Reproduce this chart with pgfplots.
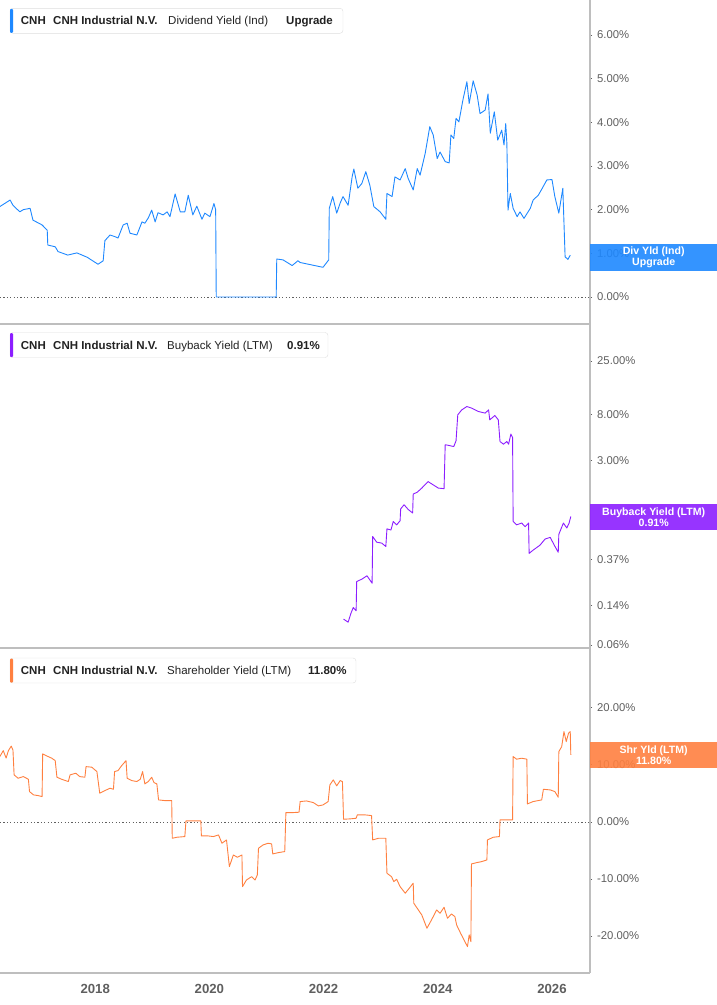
\documentclass[border=0pt]{standalone}
\usepackage{fontspec}
\setmainfont{Liberation Sans}
\usepackage{pgfplots}
\pgfplotsset{compat=1.18}

\definecolor{divblue}{RGB}{30,136,255}
\definecolor{bbpurple}{RGB}{140,30,255}
\definecolor{shrorange}{RGB}{255,128,64}
\definecolor{axisgray}{RGB}{190,190,190}
\definecolor{ticktext}{RGB}{95,95,95}
\definecolor{legtext}{RGB}{34,34,34}
\definecolor{legborder}{RGB}{222,222,222}

\newcommand\legfont{\fontsize{11.5}{13}\selectfont}
\newcommand\annfont{\fontsize{10.6}{10.8}\selectfont}

\pgfplotsset{
  panel/.style={
    scale only axis, width=590pt, height=324pt,
    xmin=2016.333, xmax=2026.666,
    axis line style={draw=none},
    xtick=\empty,
    ytick pos=right, yticklabel pos=right,
    tick align=outside, major tick length=2pt,
    ytick style={ticktext, line width=0.8pt},
    yticklabel style={font=\fontsize{11.3}{12}\selectfont, text=ticktext, inner sep=0pt, xshift=5pt},
    /pgf/number format/assume math mode=true,
    anchor=north west,
  },
  zeroline/.style={ticktext, line width=0.8pt, dash pattern=on 1.2pt off 2.2pt},
  series/.style={#1, line width=0.9pt, line join=round},
}

\begin{document}
\begin{tikzpicture}

% ---- panel 1: dividend yield
\begin{axis}[panel, at={(0pt,0pt)},
  ymin=-0.618, ymax=6.80,
  ytick={0,1,2,3,4,5,6},
  yticklabels={0.00\%,1.00\%,2.00\%,3.00\%,4.00\%,5.00\%,6.00\%}]
\addplot[zeroline] coordinates {(2016.333,0) (2026.666,0)};
\addplot[series=divblue] coordinates {
(2016.33,2.07) (2016.51,2.22) (2016.56,2.10) (2016.68,1.95) (2016.74,2.00)
(2016.86,2.03) (2016.91,1.76) (2017.07,1.65) (2017.16,1.53) (2017.17,1.19)
(2017.30,1.15) (2017.35,1.04) (2017.52,0.96) (2017.68,1.01) (2017.86,0.91)
(2018.05,0.75) (2018.14,0.83) (2018.17,1.29) (2018.26,1.42) (2018.35,1.38)
(2018.40,1.35) (2018.49,1.65) (2018.56,1.69) (2018.61,1.46) (2018.73,1.42)
(2018.82,1.72) (2018.87,1.69) (2018.93,1.81) (2018.99,1.99) (2019.05,1.72)
(2019.10,1.93) (2019.19,1.88) (2019.26,1.95) (2019.31,1.84) (2019.40,2.36)
(2019.49,1.95) (2019.57,1.95) (2019.63,2.33) (2019.71,1.88) (2019.78,2.08)
(2019.87,1.78) (2019.92,1.92) (2020.01,1.84) (2020.08,2.14) (2020.11,2.00)
(2020.12,0) (2021.17,0) (2021.18,0.87) (2021.29,0.85) (2021.45,0.72)
(2021.55,0.83) (2021.59,0.79) (2021.99,0.68) (2022.09,0.85) (2022.10,2.03)
(2022.16,2.30) (2022.23,1.92) (2022.29,2.15) (2022.34,2.30) (2022.43,2.10)
(2022.50,2.75) (2022.53,2.93) (2022.60,2.49) (2022.67,2.60) (2022.74,2.87)
(2022.81,2.56) (2022.88,2.07) (2022.99,1.95) (2023.09,1.78) (2023.11,2.37)
(2023.20,2.30) (2023.25,2.75) (2023.34,2.68) (2023.43,2.94) (2023.48,2.72)
(2023.57,2.45) (2023.64,2.94) (2023.69,2.79) (2023.78,3.29) (2023.86,3.90)
(2023.92,3.71) (2023.99,3.17) (2024.04,3.32) (2024.13,3.10) (2024.20,3.07)
(2024.23,3.71) (2024.28,3.63) (2024.32,4.09) (2024.37,4.01) (2024.44,4.51)
(2024.51,4.93) (2024.55,4.43) (2024.62,4.95) (2024.69,4.62) (2024.74,4.20)
(2024.83,4.28) (2024.88,4.65) (2024.92,3.75) (2024.99,4.24) (2025.05,3.59)
(2025.12,3.82) (2025.16,3.48) (2025.19,3.97) (2025.21,3.52) (2025.23,1.99)
(2025.27,2.37) (2025.32,2.03) (2025.39,1.84) (2025.44,1.95) (2025.51,1.80)
(2025.62,2.03) (2025.67,2.22) (2025.76,2.33) (2025.83,2.49) (2025.91,2.68)
(2026.00,2.69) (2026.05,2.30) (2026.12,1.92) (2026.19,2.49) (2026.23,0.92)
(2026.28,0.86) (2026.32,0.96)
};
\end{axis}

% ---- panel 2: buyback yield (log)
\begin{axis}[panel, at={(0pt,-324pt)},
  ymode=log, ymin=0.0563, ymax=54.8,
  ytick={0.06,0.14,0.37,3,8,25},
  yticklabels={0.06\%,0.14\%,0.37\%,3.00\%,8.00\%,25.00\%},
  minor ytick={}, yminorticks=false]
\addplot[series=bbpurple] coordinates {
(2022.35,0.104) (2022.43,0.0975) (2022.48,0.118) (2022.52,0.133) (2022.57,0.124)
(2022.58,0.231) (2022.67,0.243) (2022.76,0.261) (2022.85,0.223) (2022.86,0.601)
(2022.93,0.533) (2023.02,0.522) (2023.09,0.486) (2023.11,0.707) (2023.18,0.69)
(2023.22,0.826) (2023.28,0.77) (2023.34,0.84) (2023.35,1.08) (2023.41,1.18)
(2023.48,1.07) (2023.56,0.99) (2023.57,1.48) (2023.64,1.54) (2023.72,1.68)
(2023.83,1.93) (2023.92,1.80) (2024.01,1.68) (2024.11,1.66) (2024.13,4.22)
(2024.20,4.15) (2024.28,4.06) (2024.32,4.59) (2024.35,7.96) (2024.42,8.85)
(2024.51,9.5) (2024.59,9.19) (2024.71,8.55) (2024.83,8.26) (2024.89,8.85)
(2024.91,7.16) (2025.00,7.85) (2025.06,7.16) (2025.09,4.52) (2025.15,4.27)
(2025.21,4.52) (2025.24,4.27) (2025.28,5.29) (2025.31,4.92) (2025.32,0.83)
(2025.38,0.77) (2025.47,0.80) (2025.53,0.74) (2025.59,0.80) (2025.60,0.42)
(2025.67,0.45) (2025.79,0.50) (2025.88,0.57) (2025.97,0.59) (2026.04,0.50)
(2026.11,0.43) (2026.12,0.63) (2026.20,0.80) (2026.26,0.72) (2026.30,0.80)
(2026.33,0.92)
};
\end{axis}

% ---- panel 3: shareholder yield
\begin{axis}[panel, at={(0pt,-648pt)}, height=325pt,
  ymin=-26.5, ymax=30.5,
  ytick={-20,-10,0,10,20},
  yticklabels={-20.00\%,-10.00\%,0.00\%,10.00\%,20.00\%},
  xtick={2018,2020,2022,2024,2026},
  xticklabels={2018,2020,2022,2024,2026},
  xtick style={draw=none},
  xticklabel style={font=\fontsize{13.2}{14}\selectfont\bfseries, text=ticktext, inner sep=0pt, yshift=-9pt}]
\addplot[zeroline] coordinates {(2016.333,0) (2026.666,0)};
\addplot[series=shrorange] coordinates {
(2016.33,11.46) (2016.39,12.5) (2016.44,11.2) (2016.48,12.5) (2016.53,13.3)
(2016.56,12.6) (2016.58,8.25) (2016.65,7.66) (2016.74,7.95) (2016.83,7.49)
(2016.85,5.32) (2016.92,4.74) (2017.00,4.62) (2017.07,4.44) (2017.08,11.93)
(2017.15,11.58) (2017.24,11.17) (2017.30,10.75) (2017.33,7.84) (2017.41,7.49)
(2017.53,7.08) (2017.56,8.25) (2017.66,8.54) (2017.73,7.95) (2017.82,7.84)
(2017.84,9.70) (2017.94,9.60) (2018.03,8.83) (2018.08,5.03) (2018.17,5.49)
(2018.26,5.91) (2018.32,5.73) (2018.34,8.83) (2018.40,9.00) (2018.46,9.82)
(2018.54,10.75) (2018.56,7.66) (2018.64,7.25) (2018.73,7.08) (2018.79,7.49)
(2018.83,8.83) (2018.87,6.67) (2018.93,7.08) (2018.99,7.84) (2019.03,6.90)
(2019.08,6.67) (2019.11,3.86) (2019.22,3.74) (2019.34,3.74) (2019.35,-2.87)
(2019.43,-2.69) (2019.57,-2.57) (2019.59,0.17) (2019.72,0.17) (2019.85,0.17)
(2019.86,-2.46) (2019.98,-2.46) (2020.07,-2.57) (2020.16,-2.28) (2020.22,-3.74)
(2020.30,-3.16) (2020.35,-7.84) (2020.42,-5.79) (2020.49,-6.20) (2020.57,-5.79)
(2020.58,-11.35) (2020.65,-10.18) (2020.74,-9.60) (2020.80,-10.18) (2020.84,-9.30)
(2020.86,-4.62) (2020.94,-4.04) (2021.03,-3.74) (2021.09,-3.86) (2021.11,-5.61)
(2021.21,-5.38) (2021.32,-5.20) (2021.34,1.64) (2021.47,1.64) (2021.57,1.70)
(2021.59,3.57) (2021.70,3.68) (2021.82,3.39) (2021.91,2.81) (2021.99,2.98)
(2022.08,3.57) (2022.11,6.49) (2022.17,7.37) (2022.23,6.32) (2022.29,7.25)
(2022.33,7.08) (2022.35,0.47) (2022.46,0.53) (2022.57,0.64) (2022.59,1.23)
(2022.73,1.23) (2022.84,1.11) (2022.86,-3.16) (2022.96,-2.87) (2023.09,-2.87)
(2023.11,-9.00) (2023.19,-9.60) (2023.23,-10.47) (2023.28,-10.06) (2023.34,-11.35)
(2023.43,-12.50) (2023.50,-11.64) (2023.57,-10.75) (2023.58,-14.26) (2023.66,-15.44)
(2023.72,-16.32) (2023.81,-18.65) (2023.89,-17.19) (2023.98,-15.44) (2024.04,-16.02)
(2024.11,-14.97) (2024.17,-16.90) (2024.24,-16.14) (2024.30,-16.61) (2024.33,-18.07)
(2024.40,-19.53) (2024.46,-20.70) (2024.52,-21.87) (2024.55,-19.82) (2024.58,-21.00)
(2024.59,-7.37) (2024.68,-7.14) (2024.77,-6.96) (2024.86,-6.67) (2024.87,-3.16)
(2024.97,-2.69) (2025.08,-2.57) (2025.09,0.35) (2025.21,0.35) (2025.31,0.35)
(2025.32,11.46) (2025.38,11.00) (2025.47,11.17) (2025.56,11.00) (2025.57,3.16)
(2025.67,3.57) (2025.82,3.86) (2025.85,5.73) (2025.97,5.61) (2026.05,5.32)
(2026.11,4.33) (2026.12,12.33) (2026.17,13.20) (2026.21,15.84) (2026.25,14.09)
(2026.29,15.56) (2026.32,15.84) (2026.33,11.75)
};
\end{axis}

% axis frame lines
\draw[axisgray, line width=1.3pt] (590pt,0pt) -- (590pt,-973pt);
\draw[axisgray, line width=1.3pt] (0pt,-324pt) -- (590pt,-324pt);
\draw[axisgray, line width=1.3pt] (0pt,-648pt) -- (590pt,-648pt);
\draw[axisgray, line width=1.3pt] (0pt,-973pt) -- (590pt,-973pt);

% legends
\draw[legborder, fill=white, rounded corners=3pt] (10pt,-8.3pt) rectangle (343pt,-33.3pt);
\fill[divblue, rounded corners=1pt] (10pt,-8.8pt) rectangle (13pt,-32.8pt);
\node[anchor=base west, inner sep=0pt, font=\legfont\bfseries, text=legtext] at (20.7pt,-24.7pt) {CNH};
\node[anchor=base west, inner sep=0pt, font=\legfont\bfseries, text=legtext] at (53pt,-24.7pt) {CNH Industrial N.V.};
\node[anchor=base west, inner sep=0pt, font=\legfont, text=legtext] at (168pt,-24.7pt) {Dividend Yield (Ind)};
\node[anchor=base west, inner sep=0pt, font=\legfont\bfseries, text=legtext] at (286pt,-24.7pt) {Upgrade};

\draw[legborder, fill=white, rounded corners=3pt] (10pt,-332.5pt) rectangle (328pt,-357.5pt);
\fill[bbpurple, rounded corners=1pt] (10pt,-333pt) rectangle (13pt,-357pt);
\node[anchor=base west, inner sep=0pt, font=\legfont\bfseries, text=legtext] at (20.7pt,-349pt) {CNH};
\node[anchor=base west, inner sep=0pt, font=\legfont\bfseries, text=legtext] at (53pt,-349pt) {CNH Industrial N.V.};
\node[anchor=base west, inner sep=0pt, font=\legfont, text=legtext] at (167pt,-349pt) {Buyback Yield (LTM)};
\node[anchor=base west, inner sep=0pt, font=\legfont\bfseries, text=legtext] at (287pt,-349pt) {0.91\%};

\draw[legborder, fill=white, rounded corners=3pt] (10pt,-658pt) rectangle (356pt,-683pt);
\fill[shrorange, rounded corners=1pt] (10pt,-658.5pt) rectangle (13pt,-682.5pt);
\node[anchor=base west, inner sep=0pt, font=\legfont\bfseries, text=legtext] at (20.7pt,-674.5pt) {CNH};
\node[anchor=base west, inner sep=0pt, font=\legfont\bfseries, text=legtext] at (53pt,-674.5pt) {CNH Industrial N.V.};
\node[anchor=base west, inner sep=0pt, font=\legfont, text=legtext] at (167pt,-674.5pt) {Shareholder Yield (LTM)};
\node[anchor=base west, inner sep=0pt, font=\legfont\bfseries, text=legtext] at (308pt,-674.5pt) {11.80\%};

% value tags on the right
\node[anchor=west, fill=divblue, fill opacity=0.9, text opacity=1, text=white, font=\annfont\bfseries, align=center, minimum width=127pt, minimum height=27pt, inner sep=0pt] at (590pt,-257.5pt) {Div Yld (Ind)\\Upgrade};
\node[anchor=west, fill=bbpurple, fill opacity=0.9, text opacity=1, text=white, font=\annfont\bfseries, align=center, minimum width=127pt, minimum height=26pt, inner sep=0pt] at (590pt,-517pt) {Buyback Yield (LTM)\\0.91\%};
\node[anchor=west, fill=shrorange, fill opacity=0.9, text opacity=1, text=white, font=\annfont\bfseries, align=center, minimum width=127pt, minimum height=26pt, inner sep=0pt] at (590pt,-755pt) {Shr Yld (LTM)\\11.80\%};

\pgfresetboundingbox
\useasboundingbox (0pt,0pt) rectangle (717pt,-1005pt);
\end{tikzpicture}
\end{document}
